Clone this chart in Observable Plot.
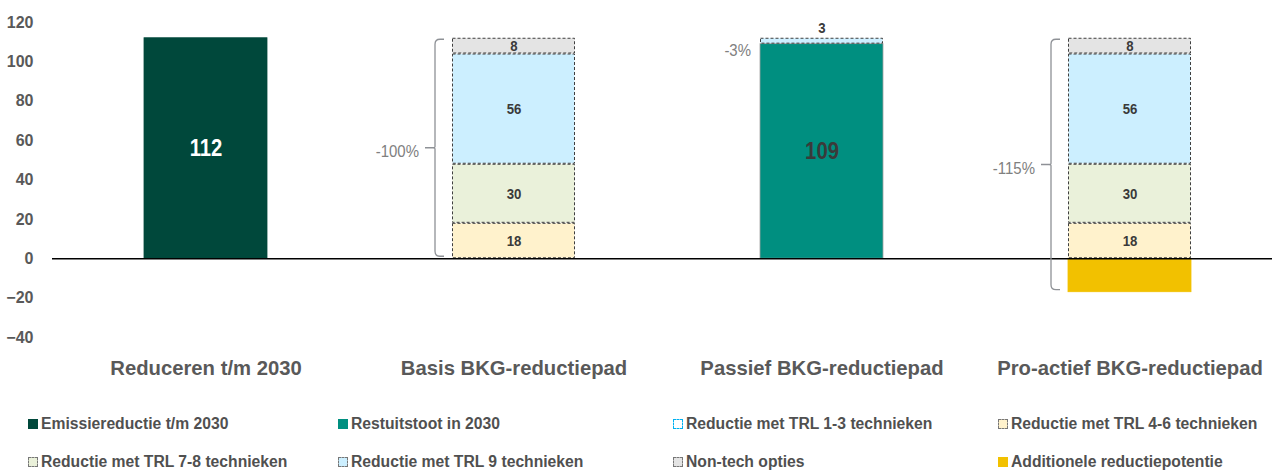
<!DOCTYPE html>
<html><head><meta charset="utf-8">
<script src="https://cdn.jsdelivr.net/npm/d3@7"></script>
<script src="https://cdn.jsdelivr.net/npm/@observablehq/plot@0.6"></script>
<style>
body{margin:0;background:#fff;font-family:"Liberation Sans Narrow","Arial Narrow","Liberation Sans",Arial,sans-serif;}
#chart svg{display:block;}
#legend{position:relative;height:81px;width:1272px;}
.item{position:absolute;display:flex;align-items:center;font-weight:bold;font-size:16px;color:#505050;white-space:nowrap;height:18px}
.item span{display:inline-block;transform:scaleX(0.98);transform-origin:left center}
.sw{width:10px;height:10px;margin-right:3px;box-sizing:border-box}
</style></head><body>
<div id="chart"></div><div id="legend"></div>
<script>
// ---------- data ----------
const categories = ["Reduceren t/m 2030", "Basis BKG-reductiepad", "Passief BKG-reductiepad", "Pro-actief BKG-reductiepad"];
const series = [
  "Emissiereductie t/m 2030",
  "Restuitstoot in 2030",
  "Reductie met TRL 1-3 technieken",
  "Reductie met TRL 4-6 technieken",
  "Reductie met TRL 7-8 technieken",
  "Reductie met TRL 9 technieken",
  "Non-tech opties",
  "Additionele reductiepotentie"
];
const emissiereductie = [112, 0, 0, 0];
const restuitstoot    = [0, 0, 109, 0];
const trl13           = [0, 0, 3, 0];
const trl46           = [0, 18, 0, 18];
const trl78           = [0, 30, 0, 30];
const trl9            = [0, 56, 0, 56];
const nonTech         = [0, 8, 0, 8];
const additioneel     = [0, 0, 0, -17];
const yTicks = [-40, -20, 0, 20, 40, 60, 80, 100, 120];

const values = {
  "Emissiereductie t/m 2030": emissiereductie,
  "Restuitstoot in 2030": restuitstoot,
  "Reductie met TRL 1-3 technieken": trl13,
  "Reductie met TRL 4-6 technieken": trl46,
  "Reductie met TRL 7-8 technieken": trl78,
  "Reductie met TRL 9 technieken": trl9,
  "Non-tech opties": nonTech,
  "Additionele reductiepotentie": additioneel
};
// ---------- styles ----------
const colors = {
  "Emissiereductie t/m 2030": "#00483b",
  "Restuitstoot in 2030": "#008f80",
  "Reductie met TRL 1-3 technieken": "#ccefff",
  "Reductie met TRL 4-6 technieken": "#fff2cc",
  "Reductie met TRL 7-8 technieken": "#eaf1da",
  "Reductie met TRL 9 technieken": "#ccefff",
  "Non-tech opties": "#e4e4e4",
  "Additionele reductiepotentie": "#f2c100"
};
const dashed = new Set(["Reductie met TRL 1-3 technieken","Reductie met TRL 4-6 technieken","Reductie met TRL 7-8 technieken","Reductie met TRL 9 technieken","Non-tech opties"]);
const stackOrder = [series[0], series[1], series[3], series[4], series[5], series[6], series[2], series[7]];

// ---------- stacking ----------
const rows = [];
categories.forEach((c, i) => {
  let pos = 0, neg = 0;
  for (const s of stackOrder) {
    const v = values[s][i];
    if (!v) continue;
    if (v > 0) { rows.push({cat: c, series: s, value: v, y1: pos, y2: pos + v}); pos += v; }
    else { rows.push({cat: c, series: s, value: v, y1: neg + v, y2: neg}); neg += v; }
  }
});
const base = emissiereductie[0];
const totals = categories.map((c, i) => {
  const r = rows.filter(d => d.cat === c);
  return {cat: c, top: d3.max(r, d => d.y2), bottom: d3.min(r, d => d.y1)};
});
const reductionShare = categories.map((c, i) => {
  const red = trl13[i] + trl46[i] + trl78[i] + trl9[i] + nonTech[i] - additioneel[i];
  return red / base;
});

const mainLabels = rows.filter(d => ["Emissiereductie t/m 2030","Restuitstoot in 2030"].includes(d.series));
const segLabels = rows.filter(d => dashed.has(d.series) && d.series !== "Reductie met TRL 1-3 technieken");
const topLabels = rows.filter(d => d.series === "Reductie met TRL 1-3 technieken");

const braces = categories.map((c, i) => ({cat: c, i, share: reductionShare[i], top: totals[i].top, bottom: totals[i].bottom}))
  .filter(d => d.share >= 0.5);
const smallPct = categories.map((c, i) => ({cat: c, i, share: reductionShare[i], y: rows.find(d => d.cat === c && d.series === "Restuitstoot in 2030")?.y2}))
  .filter(d => d.share > 0 && d.share < 0.5);

const pct = s => "-" + Math.round(s * 100) + "%";

const braceMark = (index, scales, vals, dims) => {
  const g = d3.create("svg:g");
  const x = scales.x, y = scales.y;
  for (const b of braces) {
    const x0 = x(b.cat) - 17;
    const yT = y(b.top) + 1.5, yB = y(b.bottom) - 2, ym = (yT + yB) / 2;
    const r = 5;
    const p = `M${x0 + 9},${yT} L${x0 + r},${yT} Q${x0},${yT} ${x0},${yT + r} L${x0},${ym - 1} Q${x0},${ym} ${x0 - 2},${ym} L${x0 - 10},${ym} M${x0 - 2},${ym} Q${x0},${ym} ${x0},${ym + 1} L${x0},${yB - r} Q${x0},${yB} ${x0 + r},${yB} L${x0 + 9},${yB}`;
    g.append("path").attr("d", p).attr("fill", "none").attr("stroke", "#8e9196").attr("stroke-width", 1.3);
    g.append("text").attr("x", x0 - 16).attr("y", ym + 4).attr("dy", "0.32em")
      .attr("text-anchor", "end").attr("fill", "#808080").attr("font-size", 17)
      .text(pct(b.share));
  }
  return g.node();
};

const chart = Plot.plot({
  width: 1272,
  height: 390,
  marginTop: 22,
  marginBottom: 53,
  marginLeft: 52,
  marginRight: 0,
  style: {fontFamily: '"Liberation Sans Narrow","Arial Narrow","Liberation Sans",Arial,sans-serif', background: "#fff"},
  x: {domain: categories, range: [50.75, 1284.75], paddingInner: 0.6, paddingOuter: 0.3, label: null},
  y: {domain: [-40, 120], label: null},
  color: {type: "identity"},
  marks: [
    Plot.axisY({ticks: yTicks, tickSize: 0, tickPadding: 19, fontSize: 16, fontWeight: "bold", fill: "#595959", label: null}),
    Plot.axisX({tickSize: 0, tickPadding: 23, fontSize: 21, fontWeight: "bold", fill: "#595959", label: null}),
    Plot.barY(rows.filter(d => !dashed.has(d.series)), {x: "cat", y1: "y1", y2: "y2", fill: d => colors[d.series],
      stroke: d => d.series === "Restuitstoot in 2030" ? "#a0a0a0" : colors[d.series], strokeWidth: 0.8}),
    Plot.barY(rows.filter(d => dashed.has(d.series)), {x: "cat", y1: "y1", y2: "y2", fill: d => colors[d.series],
      stroke: "#3f3f3f", strokeWidth: 1, strokeDasharray: "3,2", inset: 0.5}),
    Plot.ruleY([0], {stroke: "#000", strokeWidth: 1.5}),
    Plot.text(mainLabels, {x: "cat", y: d => (d.y1 + d.y2) / 2, text: d => String(d.value),
      fill: d => d.series === "Emissiereductie t/m 2030" ? "#ffffff" : "#3a3a3a",
      fontSize: 23, fontWeight: "bold"}),
    Plot.text(segLabels, {x: "cat", y: d => (d.y1 + d.y2) / 2, text: d => String(d.value), fill: "#3a3a3a", fontSize: 15, fontWeight: "bold"}),
    Plot.text(topLabels, {x: "cat", y: "y2", dy: -10, text: d => String(d.value), fill: "#3a3a3a", fontSize: 15, fontWeight: "bold"}),
    Plot.text(smallPct, {x: "cat", y: "y", text: d => pct(d.share), textAnchor: "end", dx: -71, dy: 6, fill: "#808080", fontSize: 17}),
    braceMark
  ]
});
document.getElementById("chart").appendChild(chart);

// narrow the text (the original uses a condensed face)
chart.querySelectorAll("text").forEach(t => {
  if (t.closest('g[aria-label="y-axis tick label"]')) return;
  const ratio = t.closest('g[aria-label="x-axis tick label"]') ? 0.965 : 0.88;
  const len = t.getComputedTextLength();
  if (len > 0) {
    t.setAttribute("textLength", (len * ratio).toFixed(2));
    t.setAttribute("lengthAdjust", "spacingAndGlyphs");
  }
});

// ---------- legend ----------
const legendCols = [28, 338, 673, 998];
const legend = document.getElementById("legend");
series.forEach((s, k) => {
  const item = document.createElement("div");
  item.className = "item";
  item.style.left = legendCols[k % 4] + "px";
  item.style.top = (k < 4 ? 25 : 63) + "px";
  const sw = document.createElement("div");
  sw.className = "sw";
  if (s === "Reductie met TRL 1-3 technieken") {
    sw.style.background = "#fff"; sw.style.border = "1.5px dashed #00b0f0";
  } else if (dashed.has(s)) {
    sw.style.background = colors[s]; sw.style.border = "1px dashed #777";
  } else {
    sw.style.background = colors[s];
  }
  item.appendChild(sw);
  const t = document.createElement("span");
  t.textContent = s;
  item.appendChild(t);
  legend.appendChild(item);
});
</script>
</body></html>
